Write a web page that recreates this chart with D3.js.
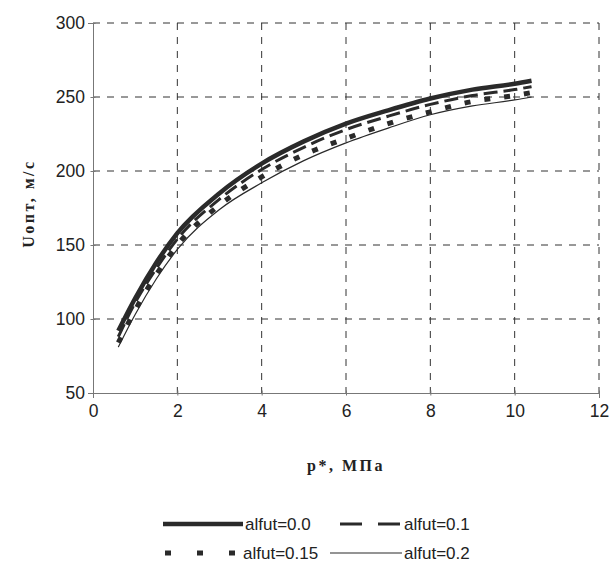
<!DOCTYPE html>
<html>
<head>
<meta charset="utf-8">
<script src="https://cdnjs.cloudflare.com/ajax/libs/d3/7.8.5/d3.min.js"></script>
<style>
    body { margin: 0; background: #fff; }
    .tick text { font-family: 'Liberation Sans', Arial, sans-serif; font-size: 17.5px; fill: #222; }
    .title { font-family: 'Liberation Serif', 'Times New Roman', serif; font-weight: bold; font-size: 16px; fill: #222; letter-spacing: 2.5px; }
    .legend text { font-family: 'Liberation Sans', Arial, sans-serif; font-size: 17px; fill: #222; }
</style>
</head>
<body>
<div id="chart"></div>
<script>
// data
var pValues = [0.6, 1, 1.5, 2, 3, 4, 5, 6, 7, 8, 9, 10, 10.4];
var alfut00 = [92, 114, 138, 158, 185, 205, 220, 232, 241, 249, 255, 259, 261];
var alfut01 = [88, 111, 134, 154, 181, 201, 216, 228, 237, 245, 251, 255, 257];
var alfut015 = [84, 106, 130, 150, 177, 196, 211, 222, 232, 240, 247, 251, 253];
var alfut02 = [81, 103, 127, 147, 174, 192, 207, 219, 229, 238, 244, 248, 250];
var seriesNames = ['alfut=0.0', 'alfut=0.1', 'alfut=0.15', 'alfut=0.2'];
var xTicks = [0, 2, 4, 6, 8, 10, 12];
var yTicks = [50, 100, 150, 200, 250, 300];

var svgWidth = 614;
var svgHeight = 577;

var margin = { top: 23, right: 15, bottom: 184, left: 93 };
var width = svgWidth - margin.left - margin.right;
var height = svgHeight - margin.top - margin.bottom;

var svg = d3.select('#chart')
    .append('svg')
    .attr('width', svgWidth)
    .attr('height', svgHeight);

var chartGroup = svg.append('g')
    .attr('transform', `translate(${margin.left}, ${margin.top})`);

var xScale = d3.scaleLinear().domain([0, 12]).range([0, width]);
var yScale = d3.scaleLinear().domain([50, 300]).range([height, 0]);

// dashed grid
chartGroup.append('g')
    .selectAll('line')
    .data(yTicks.filter(d => d > 50))
    .enter()
    .append('line')
    .attr('x1', 0)
    .attr('x2', width)
    .attr('y1', d => yScale(d))
    .attr('y2', d => yScale(d))
    .attr('stroke', '#333')
    .attr('stroke-width', 1)
    .attr('stroke-dasharray', '7,7');

chartGroup.append('g')
    .selectAll('line')
    .data(xTicks.filter(d => d > 0))
    .enter()
    .append('line')
    .attr('x1', d => xScale(d))
    .attr('x2', d => xScale(d))
    .attr('y1', 0)
    .attr('y2', height)
    .attr('stroke', '#333')
    .attr('stroke-width', 1)
    .attr('stroke-dasharray', '7,7');

// axes
var bottomAxis = d3.axisBottom(xScale).tickValues(xTicks).tickSize(5).tickPadding(7);
var leftAxis = d3.axisLeft(yScale).tickValues(yTicks).tickSize(5).tickPadding(3);

var xAxis = chartGroup.append('g')
    .attr('transform', `translate(0, ${height})`)
    .call(bottomAxis);
xAxis.select('.domain').attr('stroke', '#777');
xAxis.selectAll('.tick line').attr('stroke', '#777').attr('transform', 'translate(0,-2.5)');

var yAxis = chartGroup.append('g').call(leftAxis);
yAxis.select('.domain').attr('stroke', '#777');
yAxis.selectAll('.tick line').attr('stroke', '#777').attr('transform', 'translate(2.5,0)');

// axis titles
chartGroup.append('text')
    .classed('title', true)
    .attr('x', width / 2 - 0)
    .attr('y', height + 78)
    .attr('text-anchor', 'middle')
    .text('p*, МПа');

chartGroup.append('text')
    .classed('title', true)
    .attr('transform', `translate(${-59}, ${yScale(178)}) rotate(-90)`)
    .attr('text-anchor', 'middle')
    .text('Uопт, м/с');

// curves
var styles = [
    { data: alfut00, w: 4.5, dash: null },
    { data: alfut01, w: 3, dash: '14,6' },
    { data: alfut015, w: 5, dash: '6,14' },
    { data: alfut02, w: 1.2, dash: null }
];

var line = d3.line()
    .x(d => xScale(d[0]))
    .y(d => yScale(d[1]))
    .curve(d3.curveMonotoneX);

styles.forEach(function(s) {
    chartGroup.append('path')
        .datum(pValues.map((p, i) => [p, s.data[i]]))
        .attr('d', line)
        .attr('fill', 'none')
        .attr('stroke', '#2a2a2a')
        .attr('stroke-width', s.w)
        .attr('stroke-dasharray', s.dash);
});

// legend
var legend = svg.append('g').classed('legend', true);
var legendPos = [
    { x: 163, y: 524, len: 80 },
    { x: 340, y: 524, len: 62 },
    { x: 165, y: 553, len: 76 },
    { x: 330, y: 553, len: 72 }
];
var legendDash = [null, '22,16', '6,26', null];

seriesNames.forEach(function(name, i) {
    var pos = legendPos[i];
    legend.append('line')
        .attr('x1', pos.x)
        .attr('x2', pos.x + pos.len)
        .attr('y1', pos.y)
        .attr('y2', pos.y)
        .attr('stroke', '#2a2a2a')
        .attr('stroke-width', styles[i].w)
        .attr('stroke-dasharray', legendDash[i]);
    legend.append('text')
        .attr('x', pos.x + pos.len + 2)
        .attr('y', pos.y + 6)
        .text(name);
});
</script>
</body>
</html>
